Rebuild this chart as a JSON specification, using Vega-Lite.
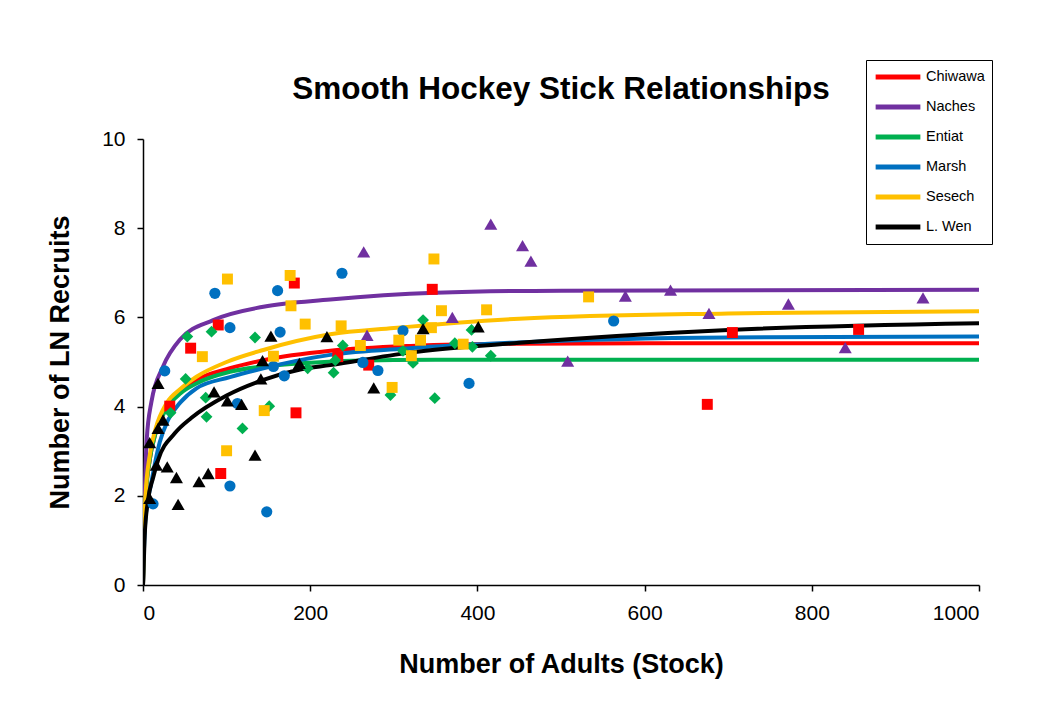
{
  "$schema": "https://vega.github.io/schema/vega-lite/v6.json",
  "autosize": {"type": "none"},
  "width": 836,
  "height": 446,
  "padding": {"left": 143, "top": 139, "right": 65, "bottom": 119},
  "background": "white",
  "config": {
    "font": "Liberation Sans",
    "view": {"stroke": null},
    "axis": {"grid": false, "domainColor": "black", "tickColor": "black", "domainWidth": 1.5, "tickWidth": 1.5, "tickSize": 6, "labelColor": "black", "labelFontSize": 21, "labelFont": "Liberation Sans", "titleFont": "Liberation Sans", "titleFontSize": 27, "titleFontWeight": "bold", "titleColor": "black"}
  },
  "title": {"text": "Smooth Hockey Stick Relationships", "fontSize": 31.5, "fontWeight": "bold", "font": "Liberation Sans", "color": "black", "anchor": "middle", "frame": "group", "offset": -46},
  "datasets": {
    "curves": [
      {"pop": "Chiwawa", "x": 0, "y": 0}, {"pop": "Chiwawa", "x": 1, "y": 0.9}, {"pop": "Chiwawa", "x": 3, "y": 1.9}, {"pop": "Chiwawa", "x": 8, "y": 2.8}, {"pop": "Chiwawa", "x": 15, "y": 3.4}, {"pop": "Chiwawa", "x": 28, "y": 4.0}, {"pop": "Chiwawa", "x": 45, "y": 4.35}, {"pop": "Chiwawa", "x": 64, "y": 4.6}, {"pop": "Chiwawa", "x": 104, "y": 4.86}, {"pop": "Chiwawa", "x": 144, "y": 5.04}, {"pop": "Chiwawa", "x": 224, "y": 5.25}, {"pop": "Chiwawa", "x": 320, "y": 5.36}, {"pop": "Chiwawa", "x": 450, "y": 5.41}, {"pop": "Chiwawa", "x": 700, "y": 5.42}, {"pop": "Chiwawa", "x": 1000, "y": 5.42},
      {"pop": "Naches", "x": 0, "y": 0}, {"pop": "Naches", "x": 1, "y": 1.4}, {"pop": "Naches", "x": 2, "y": 2.0}, {"pop": "Naches", "x": 4.4, "y": 3.25}, {"pop": "Naches", "x": 10, "y": 4.1}, {"pop": "Naches", "x": 24, "y": 4.9}, {"pop": "Naches", "x": 44, "y": 5.5}, {"pop": "Naches", "x": 84, "y": 5.94}, {"pop": "Naches", "x": 144, "y": 6.24}, {"pop": "Naches", "x": 224, "y": 6.4}, {"pop": "Naches", "x": 350, "y": 6.55}, {"pop": "Naches", "x": 500, "y": 6.6}, {"pop": "Naches", "x": 1000, "y": 6.62},
      {"pop": "Entiat", "x": 0, "y": 0}, {"pop": "Entiat", "x": 1, "y": 0.9}, {"pop": "Entiat", "x": 3, "y": 1.9}, {"pop": "Entiat", "x": 8, "y": 2.8}, {"pop": "Entiat", "x": 15, "y": 3.4}, {"pop": "Entiat", "x": 28, "y": 3.95}, {"pop": "Entiat", "x": 45, "y": 4.3}, {"pop": "Entiat", "x": 64, "y": 4.52}, {"pop": "Entiat", "x": 104, "y": 4.78}, {"pop": "Entiat", "x": 144, "y": 4.9}, {"pop": "Entiat", "x": 188, "y": 4.97}, {"pop": "Entiat", "x": 250, "y": 5.03}, {"pop": "Entiat", "x": 350, "y": 5.05}, {"pop": "Entiat", "x": 1000, "y": 5.05},
      {"pop": "Marsh", "x": 0, "y": 0}, {"pop": "Marsh", "x": 1, "y": 0.7}, {"pop": "Marsh", "x": 3, "y": 1.5}, {"pop": "Marsh", "x": 10, "y": 2.3}, {"pop": "Marsh", "x": 20, "y": 3.2}, {"pop": "Marsh", "x": 30, "y": 3.7}, {"pop": "Marsh", "x": 45, "y": 4.1}, {"pop": "Marsh", "x": 64, "y": 4.41}, {"pop": "Marsh", "x": 104, "y": 4.66}, {"pop": "Marsh", "x": 144, "y": 4.86}, {"pop": "Marsh", "x": 224, "y": 5.16}, {"pop": "Marsh", "x": 319, "y": 5.31}, {"pop": "Marsh", "x": 450, "y": 5.44}, {"pop": "Marsh", "x": 700, "y": 5.55}, {"pop": "Marsh", "x": 1000, "y": 5.57},
      {"pop": "Sesech", "x": 0, "y": 0}, {"pop": "Sesech", "x": 1, "y": 1.0}, {"pop": "Sesech", "x": 3, "y": 2.0}, {"pop": "Sesech", "x": 8, "y": 2.9}, {"pop": "Sesech", "x": 15, "y": 3.5}, {"pop": "Sesech", "x": 28, "y": 4.07}, {"pop": "Sesech", "x": 45, "y": 4.4}, {"pop": "Sesech", "x": 64, "y": 4.67}, {"pop": "Sesech", "x": 100, "y": 5.0}, {"pop": "Sesech", "x": 144, "y": 5.27}, {"pop": "Sesech", "x": 224, "y": 5.62}, {"pop": "Sesech", "x": 300, "y": 5.76}, {"pop": "Sesech", "x": 450, "y": 5.97}, {"pop": "Sesech", "x": 700, "y": 6.09}, {"pop": "Sesech", "x": 1000, "y": 6.14},
      {"pop": "L. Wen", "x": 0, "y": 0}, {"pop": "L. Wen", "x": 2, "y": 1.1}, {"pop": "L. Wen", "x": 6, "y": 1.9}, {"pop": "L. Wen", "x": 12, "y": 2.4}, {"pop": "L. Wen", "x": 18, "y": 2.8}, {"pop": "L. Wen", "x": 38, "y": 3.4}, {"pop": "L. Wen", "x": 58, "y": 3.75}, {"pop": "L. Wen", "x": 100, "y": 4.25}, {"pop": "L. Wen", "x": 144, "y": 4.6}, {"pop": "L. Wen", "x": 188, "y": 4.83}, {"pop": "L. Wen", "x": 224, "y": 4.93}, {"pop": "L. Wen", "x": 319, "y": 5.21}, {"pop": "L. Wen", "x": 450, "y": 5.43}, {"pop": "L. Wen", "x": 700, "y": 5.72}, {"pop": "L. Wen", "x": 1000, "y": 5.87}
    ],
    "pts": [
      {"pop": "Chiwawa", "adults": 90, "recruits": 5.83}, {"pop": "Chiwawa", "adults": 57, "recruits": 5.31}, {"pop": "Chiwawa", "adults": 32, "recruits": 4.01}, {"pop": "Chiwawa", "adults": 183, "recruits": 3.86}, {"pop": "Chiwawa", "adults": 93, "recruits": 2.5}, {"pop": "Chiwawa", "adults": 181, "recruits": 6.77}, {"pop": "Chiwawa", "adults": 346, "recruits": 6.63}, {"pop": "Chiwawa", "adults": 233, "recruits": 5.12}, {"pop": "Chiwawa", "adults": 270, "recruits": 4.93}, {"pop": "Chiwawa", "adults": 705, "recruits": 5.66}, {"pop": "Chiwawa", "adults": 856, "recruits": 5.73}, {"pop": "Chiwawa", "adults": 675, "recruits": 4.05},
      {"pop": "Naches", "adults": 416, "recruits": 8.09}, {"pop": "Naches", "adults": 264, "recruits": 7.47}, {"pop": "Naches", "adults": 268, "recruits": 5.6}, {"pop": "Naches", "adults": 370, "recruits": 6.0}, {"pop": "Naches", "adults": 454, "recruits": 7.61}, {"pop": "Naches", "adults": 464, "recruits": 7.26}, {"pop": "Naches", "adults": 577, "recruits": 6.48}, {"pop": "Naches", "adults": 631, "recruits": 6.61}, {"pop": "Naches", "adults": 677, "recruits": 6.09}, {"pop": "Naches", "adults": 772, "recruits": 6.3}, {"pop": "Naches", "adults": 933, "recruits": 6.44}, {"pop": "Naches", "adults": 840, "recruits": 5.32}, {"pop": "Naches", "adults": 508, "recruits": 5.02},
      {"pop": "Entiat", "adults": 53, "recruits": 5.57}, {"pop": "Entiat", "adults": 82, "recruits": 5.68}, {"pop": "Entiat", "adults": 134, "recruits": 5.55}, {"pop": "Entiat", "adults": 51, "recruits": 4.62}, {"pop": "Entiat", "adults": 197, "recruits": 4.86}, {"pop": "Entiat", "adults": 228, "recruits": 4.76}, {"pop": "Entiat", "adults": 33, "recruits": 3.86}, {"pop": "Entiat", "adults": 75, "recruits": 4.2}, {"pop": "Entiat", "adults": 151, "recruits": 4.01}, {"pop": "Entiat", "adults": 76, "recruits": 3.77}, {"pop": "Entiat", "adults": 119, "recruits": 3.51}, {"pop": "Entiat", "adults": 335, "recruits": 5.94}, {"pop": "Entiat", "adults": 393, "recruits": 5.72}, {"pop": "Entiat", "adults": 239, "recruits": 5.37}, {"pop": "Entiat", "adults": 311, "recruits": 5.25}, {"pop": "Entiat", "adults": 230, "recruits": 5.04}, {"pop": "Entiat", "adults": 323, "recruits": 4.98}, {"pop": "Entiat", "adults": 373, "recruits": 5.42}, {"pop": "Entiat", "adults": 394, "recruits": 5.34}, {"pop": "Entiat", "adults": 416, "recruits": 5.14}, {"pop": "Entiat", "adults": 296, "recruits": 4.26}, {"pop": "Entiat", "adults": 349, "recruits": 4.19},
      {"pop": "Marsh", "adults": 104, "recruits": 5.77}, {"pop": "Marsh", "adults": 164, "recruits": 5.67}, {"pop": "Marsh", "adults": 26, "recruits": 4.8}, {"pop": "Marsh", "adults": 156, "recruits": 4.9}, {"pop": "Marsh", "adults": 169, "recruits": 4.69}, {"pop": "Marsh", "adults": 113, "recruits": 4.07}, {"pop": "Marsh", "adults": 104, "recruits": 2.22}, {"pop": "Marsh", "adults": 12, "recruits": 1.82}, {"pop": "Marsh", "adults": 148, "recruits": 1.64}, {"pop": "Marsh", "adults": 86, "recruits": 6.54}, {"pop": "Marsh", "adults": 161, "recruits": 6.6}, {"pop": "Marsh", "adults": 238, "recruits": 6.99}, {"pop": "Marsh", "adults": 311, "recruits": 5.7}, {"pop": "Marsh", "adults": 263, "recruits": 4.99}, {"pop": "Marsh", "adults": 281, "recruits": 4.81}, {"pop": "Marsh", "adults": 390, "recruits": 4.52}, {"pop": "Marsh", "adults": 563, "recruits": 5.92},
      {"pop": "Sesech", "adults": 177, "recruits": 6.26}, {"pop": "Sesech", "adults": 194, "recruits": 5.85}, {"pop": "Sesech", "adults": 71, "recruits": 5.12}, {"pop": "Sesech", "adults": 156, "recruits": 5.13}, {"pop": "Sesech", "adults": 145, "recruits": 3.91}, {"pop": "Sesech", "adults": 100, "recruits": 3.01}, {"pop": "Sesech", "adults": 101, "recruits": 6.86}, {"pop": "Sesech", "adults": 176, "recruits": 6.94}, {"pop": "Sesech", "adults": 348, "recruits": 7.31}, {"pop": "Sesech", "adults": 357, "recruits": 6.15}, {"pop": "Sesech", "adults": 411, "recruits": 6.17}, {"pop": "Sesech", "adults": 237, "recruits": 5.81}, {"pop": "Sesech", "adults": 345, "recruits": 5.77}, {"pop": "Sesech", "adults": 260, "recruits": 5.37}, {"pop": "Sesech", "adults": 306, "recruits": 5.49}, {"pop": "Sesech", "adults": 332, "recruits": 5.49}, {"pop": "Sesech", "adults": 321, "recruits": 5.14}, {"pop": "Sesech", "adults": 383, "recruits": 5.4}, {"pop": "Sesech", "adults": 298, "recruits": 4.43}, {"pop": "Sesech", "adults": 533, "recruits": 6.46},
      {"pop": "L. Wen", "adults": 153, "recruits": 5.58}, {"pop": "L. Wen", "adults": 220, "recruits": 5.57}, {"pop": "L. Wen", "adults": 18, "recruits": 4.52}, {"pop": "L. Wen", "adults": 143, "recruits": 5.03}, {"pop": "L. Wen", "adults": 187, "recruits": 4.97}, {"pop": "L. Wen", "adults": 141, "recruits": 4.62}, {"pop": "L. Wen", "adults": 24, "recruits": 3.7}, {"pop": "L. Wen", "adults": 18, "recruits": 3.51}, {"pop": "L. Wen", "adults": 85, "recruits": 4.33}, {"pop": "L. Wen", "adults": 101, "recruits": 4.13}, {"pop": "L. Wen", "adults": 118, "recruits": 4.05}, {"pop": "L. Wen", "adults": 8, "recruits": 3.19}, {"pop": "L. Wen", "adults": 134, "recruits": 2.91}, {"pop": "L. Wen", "adults": 16, "recruits": 2.69}, {"pop": "L. Wen", "adults": 29, "recruits": 2.65}, {"pop": "L. Wen", "adults": 40, "recruits": 2.41}, {"pop": "L. Wen", "adults": 67, "recruits": 2.32}, {"pop": "L. Wen", "adults": 78, "recruits": 2.5}, {"pop": "L. Wen", "adults": 8, "recruits": 1.94}, {"pop": "L. Wen", "adults": 42, "recruits": 1.81}, {"pop": "L. Wen", "adults": 335, "recruits": 5.75}, {"pop": "L. Wen", "adults": 401, "recruits": 5.79}, {"pop": "L. Wen", "adults": 276, "recruits": 4.42}
    ]
  },
  "layer": [
    {
      "data": {"name": "curves"},
      "mark": {"type": "line", "strokeWidth": 4, "interpolate": "monotone", "clip": true},
      "encoding": {
        "x": {"field": "x", "type": "quantitative", "scale": {"domain": [0, 1000], "nice": false}, "axis": {"values": [0, 200, 400, 600, 800, 1000], "format": "d", "title": "Number of Adults (Stock)", "labelPadding": 11, "titlePadding": 28}},
        "y": {"field": "y", "type": "quantitative", "scale": {"domain": [0, 10], "nice": false}, "axis": {"values": [0, 2, 4, 6, 8, 10], "format": "d", "title": "Number of LN Recruits", "labelPadding": 12, "titlePadding": 27}},
        "color": {"field": "pop", "type": "nominal", "scale": {"domain": ["Chiwawa", "Naches", "Entiat", "Marsh", "Sesech", "L. Wen"], "range": ["#FF0000", "#7030A0", "#00B050", "#0070C0", "#FFC000", "#000000"]},
          "legend": {"title": null, "orient": "none", "legendX": 723, "legendY": -79, "strokeColor": "black", "fillColor": "white", "padding": 7, "symbolType": "stroke", "symbolSize": 2000, "symbolStrokeWidth": 5, "clipHeight": 20, "rowPadding": 10, "labelFontSize": 14.5, "labelFont": "Liberation Sans", "labelColor": "black", "labelOffset": 3}}
      }
    },
    {
      "data": {"name": "pts"},
      "mark": {"type": "point", "filled": true, "opacity": 1, "clip": true},
      "encoding": {
        "x": {"field": "adults", "type": "quantitative"},
        "y": {"field": "recruits", "type": "quantitative"},
        "color": {"field": "pop", "type": "nominal", "scale": {"domain": ["Chiwawa", "Naches", "Entiat", "Marsh", "Sesech", "L. Wen"], "range": ["#FF0000", "#7030A0", "#00B050", "#0070C0", "#FFC000", "#000000"]}, "legend": null},
        "shape": {"field": "pop", "type": "nominal", "scale": {"domain": ["Chiwawa", "Naches", "Entiat", "Marsh", "Sesech", "L. Wen"], "range": ["square", "triangle-up", "diamond", "circle", "square", "triangle-up"]}, "legend": null},
        "size": {"field": "pop", "type": "nominal", "scale": {"type": "ordinal", "domain": ["Chiwawa", "Naches", "Entiat", "Marsh", "Sesech", "L. Wen"], "range": [120, 170, 140, 125, 120, 170]}, "legend": null}
      }
    }
  ],
  "resolve": {"scale": {"color": "independent"}, "legend": {"color": "independent"}}
}
